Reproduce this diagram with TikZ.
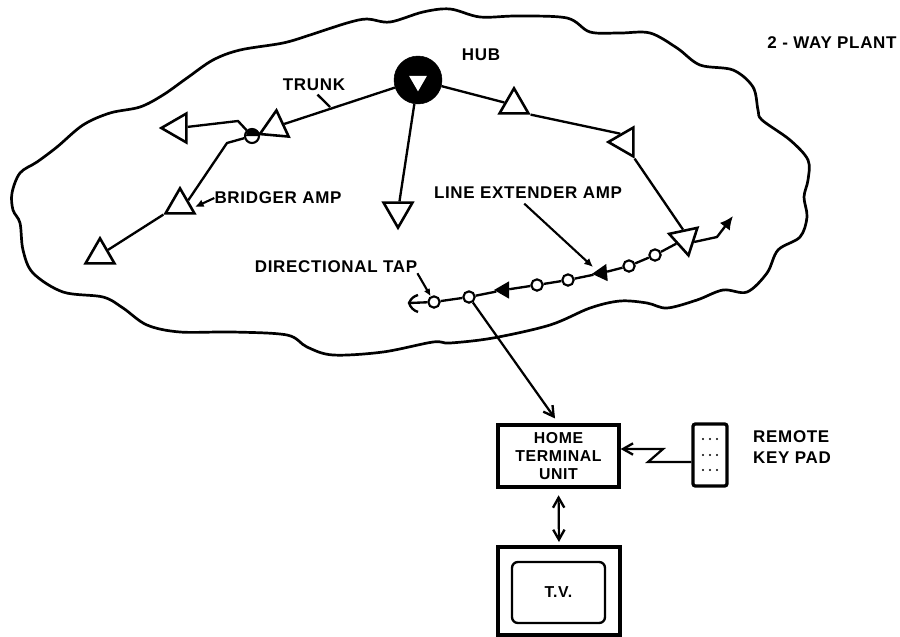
\documentclass[tikz,border=0pt]{standalone}
\usepackage{fontspec}
\setmainfont{Liberation Sans}
\newfontfamily\letterfont[LetterSpace=4]{Liberation Sans Bold}
\usepackage{tikz}
\usetikzlibrary{arrows.meta, positioning, shapes.geometric}

\tikzset{
  amp/.style={draw, regular polygon, regular polygon sides=3, minimum size=1cm, inner sep=0pt, line width=2.2pt, fill=white},
  lineamp/.style={fill=black, regular polygon, regular polygon sides=3, minimum size=0.6cm, inner sep=0pt},
  tapnode/.style={draw, circle, minimum size=0.34cm, inner sep=0pt, line width=1.8pt, fill=white},
  lettering/.style={font=\letterfont\fontsize{14.5}{17}\selectfont, inner sep=0pt},
  link/.style={line width=2pt},
  openlink/.style={line width=1.9pt, -{Straight Barb[length=3mm, width=3.4mm, line width=2pt]}},
  filledlink/.style={line width=1.8pt, -{Latex[length=2.6mm, width=2.4mm]}},
  boxnode/.style={draw, line width=2.8pt, inner sep=0pt}
}

\begin{document}
\begin{tikzpicture}[x=0.03cm, y=-0.03cm]
  \useasboundingbox (0,0) rectangle (900,636);

  % Plant outline
  \draw[line width=2.3pt] plot[smooth cycle, tension=0.55] coordinates {
    (12,193) (20,173) (37,162) (57,147) (83,125) (110,113) (140,107) (163,95)
    (187,78) (213,60) (240,50) (283,43) (310,35) (347,23) (367,19) (390,22)
    (423,12) (450,9) (480,17) (517,16) (567,18) (590,32) (620,33) (650,33)
    (677,48) (700,65) (733,70) (753,87) (758,110) (762,120) (790,140) (808,160)
    (808,180) (804,197) (807,217) (800,237) (778,250) (767,273) (747,292) (723,290)
    (697,300) (667,308) (647,303) (620,301) (590,308) (550,325) (493,338) (450,343)
    (433,342) (383,352) (333,355) (307,347) (287,335) (233,332) (180,332) (147,325)
    (123,308) (103,297) (63,292) (33,273) (23,250) (20,223) (13,210)};

  % Hub and trunk amplifiers
  \node[draw, circle, fill=black, minimum size=1.44cm, inner sep=0pt] (hub) at (418,80) {};
  \node[regular polygon, regular polygon sides=3, shape border rotate=180, fill=white, minimum size=0.62cm, inner sep=0pt] (hubamp) at (418,81) {};
  \node[amp, shape border rotate=-5] (amp1) at (275,127) {};
  \node[amp, shape border rotate=90] (amp2) at (178,128) {};
  \node[amp] (amp3) at (180,205) {};
  \node[amp] (amp4) at (100,255) {};
  \node[amp, shape border rotate=180] (amp5) at (398,211) {};
  \node[amp] (amp6) at (514,105) {};
  \node[amp, shape border rotate=90] (amp7) at (625,142) {};
  \node[amp, shape border rotate=192] (amp8) at (685,239) {};
  \node[tapnode, minimum size=0.42cm] (bridgetap) at (252,136) {};

  % Feeder line with taps
  \node[tapnode] (tap1) at (655,255) {};
  \node[tapnode] (tap2) at (629,266) {};
  \node[lineamp, shape border rotate=95] (lineamp1) at (602,273) {};
  \node[tapnode] (tap3) at (568,280) {};
  \node[tapnode] (tap4) at (537,285) {};
  \node[lineamp, shape border rotate=90] (lineamp2) at (504,290) {};
  \node[tapnode] (tap5) at (469,297) {};
  \node[tapnode] (tap6) at (434,302) {};

  % Free ends and bends
  \coordinate (bendA) at (238,121);
  \coordinate (bendB) at (227,143);
  \coordinate (bendC) at (717,237);
  \coordinate (feedend) at (733,216);
  \coordinate (forkA) at (418,295);
  \coordinate (forkB) at (409,303);
  \coordinate (forkC) at (418,312);
  \coordinate (trunkpt) at (330,107);
  \coordinate (bridgerpt) at (195,207);
  \coordinate (lineamppt) at (593,267);
  \coordinate (zigA) at (648,462);
  \coordinate (zigB) at (663,449);

  % Trunk connections
  \draw[link] (hub) -- (amp1);
  \draw[link] (hub) -- (amp5);
  \draw[link] (hub) -- (amp6);
  \draw[link] (amp6.corner 3) -- (amp7.side 3);
  \draw[link] (amp7.corner 2) -- (amp8.side 2);
  \draw[link] (amp1) -- (bridgetap);
  \draw[link] (bridgetap) -- (bendA) -- (amp2);
  \draw[link] (bridgetap) -- (bendB) -- (amp3.side 3);
  \draw[link] (amp3.corner 2) -- (amp4);
  \draw[link, -{Latex[length=4mm, width=3.8mm]}] (amp8.side 1) -- (bendC) -- (feedend);
  \fill (bridgetap.east) arc[start angle=0, end angle=180, radius=0.21cm];

  % Feeder connections
  \draw[link] (amp8) -- (tap1) -- (tap2) -- (lineamp1) -- (tap3) -- (tap4) -- (lineamp2) -- (tap5) -- (tap6) -- (forkB);
  \draw[link] (forkA) to[bend right=25] (forkB) to[bend right=25] (forkC);

  % Labels
  \node[lettering] (hublabel) at (481,55) {HUB};
  \node[lettering] (plantlabel) at (832,43) {2 - WAY PLANT};
  \node[lettering] (trunklabel) at (314,85) {TRUNK};
  \node[lettering] (bridgerlabel) at (278,198) {BRIDGER AMP};
  \node[lettering] (lineextlabel) at (528,193) {LINE EXTENDER AMP};
  \node[lettering] (dirtaplabel) at (336,267) {DIRECTIONAL TAP};
  \draw[link, shorten <=0.15cm] (trunklabel.south) -- (trunkpt);
  \draw[filledlink] (bridgerlabel.west) -- (bridgerpt);
  \draw[filledlink, shorten <=0.2cm] (lineextlabel.215) -- (lineamppt);
  \draw[filledlink, -{Latex[length=2.2mm, width=2mm]}] (dirtaplabel.south east) -- (tap6);

  % Home equipment
  \node[boxnode, font=\letterfont\fontsize{13.5}{15}\selectfont, minimum width=3.63cm, minimum height=1.86cm, align=center] (hometerminal) at (558.5,456) {HOME\\[0.5pt]TERMINAL\\[0.5pt]UNIT};
  \node[boxnode, minimum width=1.02cm, minimum height=1.86cm, rounded corners=2pt] (keypad) at (710,455) {};
  \foreach \y in {439,455,470} {
    \foreach \x in {703,710,717} {
      \fill (\x,\y) circle (0.9pt);
    }
  }
  \node[lettering, anchor=west] (remotelabel) at (753,437) {REMOTE};
  \node[lettering, anchor=west] (keypadlabel) at (753,458) {KEY PAD};
  \node[boxnode, minimum width=3.66cm, minimum height=2.64cm] (tvset) at (559,591) {};
  \node[draw, font=\letterfont\fontsize{13.5}{15}\selectfont, line width=2pt, rounded corners=5pt, minimum width=2.79cm, minimum height=1.83cm] (tvscreen) at (558.5,592.5) {T.V.};

  % Links to the home
  \draw[openlink, shorten >=0.18cm] (tap5) -- (hometerminal.north);
  \draw[openlink] (keypad.west |- zigA) -- (zigA) -- (zigB) -- (hometerminal.east |- zigB);
  \draw[line width=1.9pt, {Straight Barb[length=3mm, width=3.4mm, line width=2pt]}-{Straight Barb[length=3mm, width=3.4mm, line width=2pt]}, shorten <=0.2cm, shorten >=0.1cm] (hometerminal.south) -- (tvset.north);
\end{tikzpicture}
\end{document}
